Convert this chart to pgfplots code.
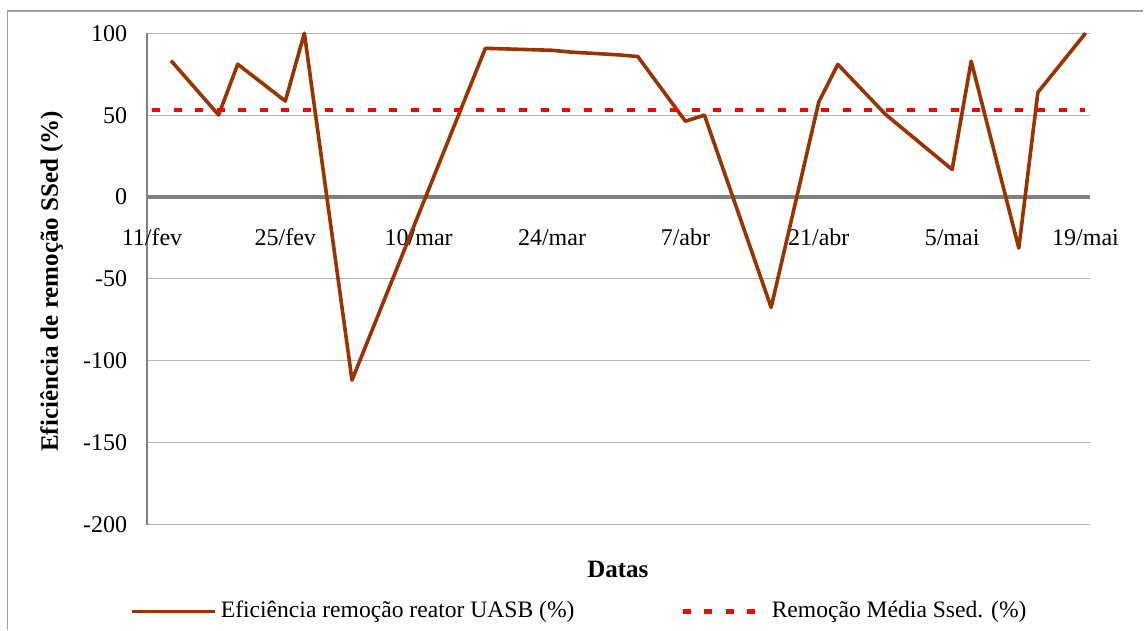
\documentclass[border=0pt]{standalone}
\usepackage{fontspec}
\setmainfont{Liberation Serif}
\usepackage{pgfplots}
\usepackage{pgfplotstable}
\pgfplotsset{compat=1.18}
\definecolor{uasb}{HTML}{993300}
\definecolor{grd}{HTML}{B3B3B3}
\definecolor{axg}{HTML}{808080}
\definecolor{frm}{HTML}{A0A0A0}

% dias contados a partir de 11/fev
\pgfplotstableread{
dia eff
2 83.3
7 50.1
9 81.1
14 58.6
16 100
21 -111.8
35 90.8
42 89.6
44 88.5
49 86.8
51 85.8
56 46.3
58 50.0
65 -67.4
70 58.0
72 81.0
77 50.5
84 16.8
86 83.0
91 -31.2
93 63.9
98 100
}\efic

\begin{document}
\begin{tikzpicture}
\begin{scope}[x=0.5bp,y=0.5bp]
\useasboundingbox (-147.3,-105) rectangle (996.7,525);
\end{scope}
\begin{axis}[
    at={(0,0)}, anchor=south west,
    scale only axis,
    width=471.85bp, height=245.85bp,
    xmin=-0.5, xmax=98.5,
    ymin=-200, ymax=100,
    clip=false,
    axis x line=middle, axis y line=left,
    x axis line style={-, draw=axg, line width=1.65bp},
    y axis line style={-, draw=axg, line width=0.7bp},
    xtick={0,14,...,98},
    xticklabels={11/fev,25/fev,10/mar,24/mar,7/abr,21/abr,5/mai,19/mai},
    ytick={-200,-150,-100,-50,0,50,100},
    yticklabels={-200,-150,-100,-50,0,50,100},
    major tick length=0pt,
    ymajorgrids,
    grid style={draw=grd, line width=0.5bp},
    xticklabel style={anchor=base, yshift=-24.2bp, inner sep=0pt,
        font=\fontsize{12bp}{14bp}\selectfont},
    yticklabel style={anchor=east, xshift=-9.8bp, inner sep=0pt,
        font=\fontsize{12bp}{14bp}\selectfont},
    xlabel={Datas},
    ylabel={Eficiência de remoção SSed (\%)},
    xlabel style={at={(axis description cs:0.4991,-0.1084)}, anchor=base,
        font=\bfseries\fontsize{12.5bp}{15bp}\selectfont},
    ylabel style={at={(axis description cs:-0.0946,0.495)}, anchor=base,
        font=\bfseries\fontsize{12.5bp}{15bp}\selectfont},
    legend columns=2,
    legend style={at={(axis description cs:-0.0183,-0.175)}, anchor=west,
        draw=none, fill=none, inner sep=0pt,
        nodes={inner sep=0pt},
        font=\fontsize{11.8bp}{14bp}\selectfont,
        column sep=2bp,
        /tikz/every even column/.append style={column sep=53bp}},
    legend image code/.code={\draw[#1] (0bp,-0.5bp) -- (41.5bp,-0.5bp);},
]
\addplot[uasb, line width=1.8bp, line join=round] table[x=dia, y=eff] {\efic};
\addlegendentry{Eficiência remoção reator UASB (\%)}
\addplot[red, line width=2.2bp, dash pattern=on 4bp off 6.8bp]
    coordinates {(0,53.3) (98,53.3)};
\addlegendentry{Remoção Média Ssed. (\%)}
\end{axis}
\begin{scope}[x=0.5bp,y=0.5bp]
\draw[frm, line width=0.8bp] (-139.8,-105) -- (-139.8,514) -- (996.7,514);
\end{scope}
\end{tikzpicture}
\end{document}
